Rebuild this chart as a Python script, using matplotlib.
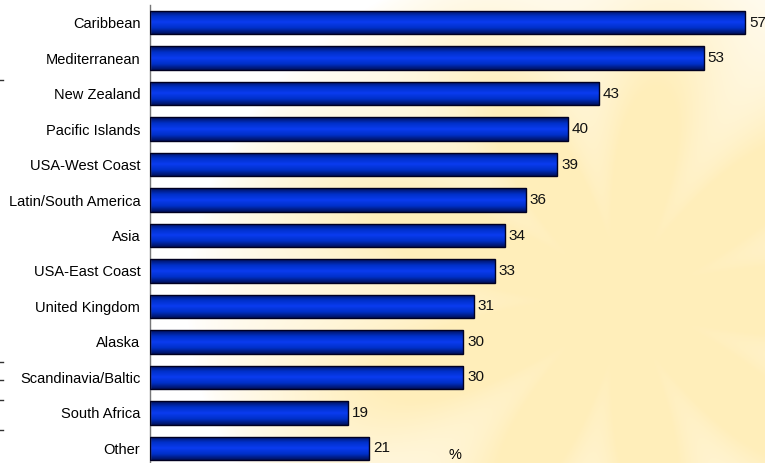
import matplotlib.pyplot as plt
import numpy as np
from matplotlib.colors import LinearSegmentedColormap

plt.rcParams['font.family'] = ['Liberation Sans', 'DejaVu Sans']

regions = ['Caribbean', 'Mediterranean', 'New Zealand', 'Pacific Islands',
           'USA-West Coast', 'Latin/South America', 'Asia', 'USA-East Coast',
           'United Kingdom', 'Alaska', 'Scandinavia/Baltic', 'South Africa', 'Other']
values = [57, 53, 43, 40, 39, 36, 34, 33, 31, 30, 30, 19, 21]

W, H = 765, 463
fig = plt.figure(figsize=(W / 100, H / 100), dpi=100)

# pale yellow backdrop on the right side
bg = fig.add_axes([0, 0, 1, 1], zorder=-10)
yy, xx = np.mgrid[0:H, 0:W]
r = np.hypot((xx - 620) / 360, (yy - 300) / 300)
ang = np.arctan2(yy - 300, xx - 620)
rays = 0.8 + 0.2 * np.cos(ang * 9)
a = np.clip(1.2 - r, 0, 1) ** 0.7 * rays
a = np.clip(a, 0, 0.6)
img = np.ones((H, W, 3))
yel = np.array([1.0, 0.89, 0.55])
img = img * (1 - a[..., None]) + yel * a[..., None]
bg.imshow(img, aspect='auto', extent=[0, 1, 0, 1], origin='upper')
bg.axis('off')

ax = fig.add_axes([150 / W, 1 - 466 / H, 610 / W, 461 / H])
ax.patch.set_alpha(0)
y = np.arange(len(regions))
bars = ax.barh(y, values, height=0.66, color='none', edgecolor='#000022', linewidth=1.0, zorder=3)

cmap = LinearSegmentedColormap.from_list('bar', ['#00105a', '#0030c8', '#0a3cf0', '#0030c8', '#00105a'])
grad = np.linspace(0, 1, 64).reshape(-1, 1)
for b in bars:
    x0, y0 = b.get_x(), b.get_y()
    im = ax.imshow(grad, cmap=cmap, aspect='auto', zorder=2,
                   extent=[x0, x0 + b.get_width(), y0 + b.get_height(), y0])
    im.set_clip_path(b)

for yi, v in zip(y, values):
    ax.text(v + 0.35, yi, str(v), va='center', ha='left', fontsize=11, color='#111111')

ax.set_xlim(0, 58.4)
ax.set_ylim(len(regions) - 0.5, -0.5)
ax.set_yticks(y)
ax.set_yticklabels(regions, fontsize=10.5)
ax.tick_params(axis='y', length=0, pad=7)
ax.set_xticks([])
for s in ['top', 'right', 'bottom']:
    ax.spines[s].set_visible(False)
ax.spines['left'].set_color('#777777')
ax.spines['left'].set_linewidth(1.0)
ax.set_xlabel('%', fontsize=10.5, labelpad=-13)

# small leftover marks along the left edge
for py in [80, 362, 380, 400, 430]:
    fig.add_artist(plt.Line2D([0, 3 / W], [1 - py / H, 1 - py / H], color='#333333', lw=1))

fig.savefig('out.png', dpi=100)
